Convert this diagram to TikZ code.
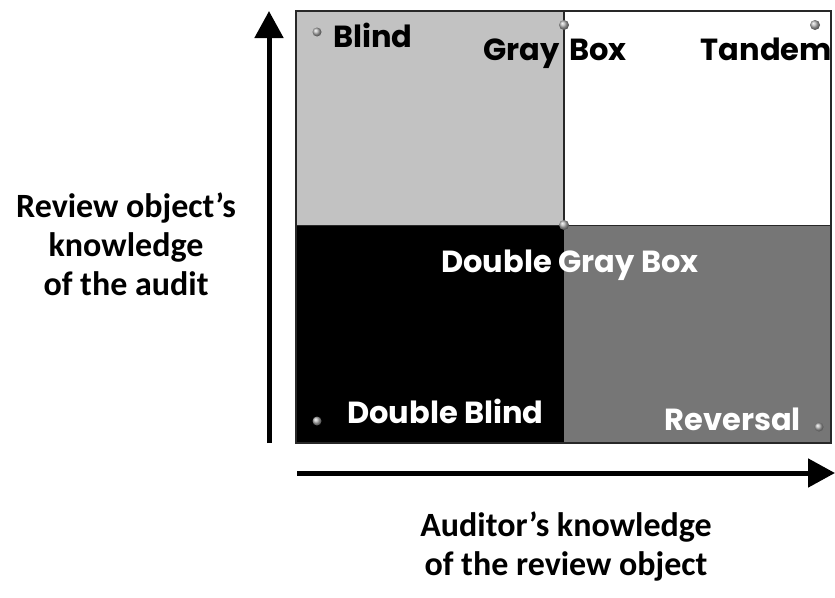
\documentclass[tikz,border=0pt]{standalone}
\usepackage{fontspec}
\setmainfont{Carlito}
\newfontfamily\qfont{Poppins}
\usetikzlibrary{arrows.meta}
\definecolor{qlight}{RGB}{194,194,194}
\definecolor{qmid}{RGB}{118,118,118}
\definecolor{qedge}{RGB}{40,40,40}
\tikzset{
  qlabel/.style={inner sep=0pt,font=\qfont\bfseries\fontsize{30.5}{34}\selectfont},
  axislabel/.style={inner sep=0pt,align=center,font=\bfseries\fontsize{34}{39}\selectfont},
  axisarrow/.style={line width=5pt,-{Triangle[length=27pt,width=28pt]}},
  knob/.style={ball color=gray!60},
}
\begin{document}
\begin{tikzpicture}[x=1pt,y=-1pt]
\useasboundingbox (0,0) rectangle (835,597);
% quadrants
\fill[qlight] (296,11) rectangle (564,225);
\fill[white] (564,11) rectangle (831,225);
\fill[black] (296,225) rectangle (564,443);
\fill[qmid] (564,225) rectangle (831,443);
\draw[qedge,line width=2pt] (296,11) rectangle (831,443);
\draw[qedge,line width=2pt] (564,11) -- (564,225);
\draw[qedge,line width=1pt] (296,225) -- (831,225);
% knobs
\shade[knob] (317,32) circle (4.5);
\shade[knob] (564,25) circle (5);
\shade[knob] (815,25) circle (5);
\shade[knob] (564,225) circle (5);
\shade[knob] (317,421) circle (4.5);
\shade[knob] (819,427) circle (4.5);
% labels
\node[qlabel,anchor=base west] (blind) at (333,47) {Blind};
\node[qlabel,anchor=base east] (gray) at (560,60) {Gray};
\node[qlabel,anchor=base west] (box) at (569,60) {Box};
\node[qlabel,anchor=base east] (tandem) at (832,60) {Tandem};
\node[qlabel,anchor=base,text=white] (dgb) at (570,272) {Double Gray Box};
\node[qlabel,anchor=base west,text=white] (db) at (347,423) {Double Blind};
\node[qlabel,anchor=base east,text=white] (rev) at (801,430) {Reversal};
% axes
\coordinate (ybot) at (269,443);
\coordinate (ytop) at (269,11);
\coordinate (xl) at (297,473);
\coordinate (xr) at (835,473);
\draw[axisarrow] (ybot) -- (ytop);
\draw[axisarrow] (xl) -- (xr);
\node[axislabel,anchor=base] (ylab) at (126,295) {Review object’s\\knowledge\\of the audit};
\node[axislabel,anchor=base] (xlab) at (566,575) {Auditor’s knowledge\\of the review object};
\end{tikzpicture}
\end{document}
